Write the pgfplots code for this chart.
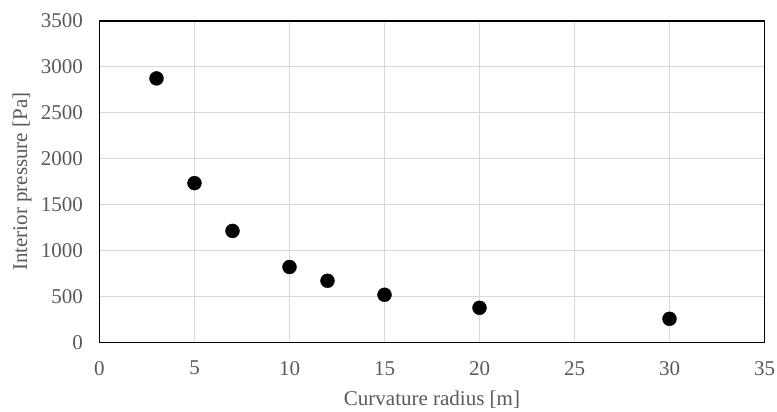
\documentclass[border=0pt]{standalone}
\usepackage{fontspec}
\setmainfont{Liberation Serif}
\usepackage{pgfplots}
\pgfplotsset{compat=1.18}
\definecolor{ticktext}{HTML}{595959}
\definecolor{gridc}{HTML}{D9D9D9}
\begin{document}
\begin{tikzpicture}
% page = 777 x 412 bp, plot box 665 x 321.5 bp
\useasboundingbox (-99.5bp,-69.5bp) rectangle (677.5bp,342.5bp);
\begin{axis}[
    at={(0,0)}, anchor=south west,
    scale only axis,
    width=665bp,
    height=321.5bp,
    xmin=0, xmax=35,
    ymin=0, ymax=3500,
    xtick distance=5,
    ytick distance=500,
    major tick length=0pt,
    grid=major,
    major grid style={draw=gridc, line width=1bp},
    axis line style={line width=1.4bp, black},
    tick label style={font=\fontsize{21bp}{25bp}\selectfont, text=ticktext, inner sep=0pt},
    /pgf/number format/assume math mode=true,
    /pgf/number format/1000 sep={},
    xticklabel shift=18.5bp,
    yticklabel shift=16.5bp,
    xlabel={Curvature radius [m]},
    ylabel={Interior pressure [Pa]},
    every axis x label/.style={at={(axis description cs:0.5,-0.1975)}, anchor=base,
        font=\fontsize{21bp}{25bp}\selectfont, text=ticktext},
    every axis y label/.style={at={(axis description cs:-0.1165,0.5)}, anchor=center, rotate=90,
        font=\fontsize{21bp}{25bp}\selectfont, text=ticktext},
]
\addplot[only marks, mark=*, mark size=7pt, black] coordinates {
    (3,2875) (5,1735) (7,1215) (10,822) (12,672) (15,520) (20,378) (30,258)
};
\end{axis}
\end{tikzpicture}
\end{document}
